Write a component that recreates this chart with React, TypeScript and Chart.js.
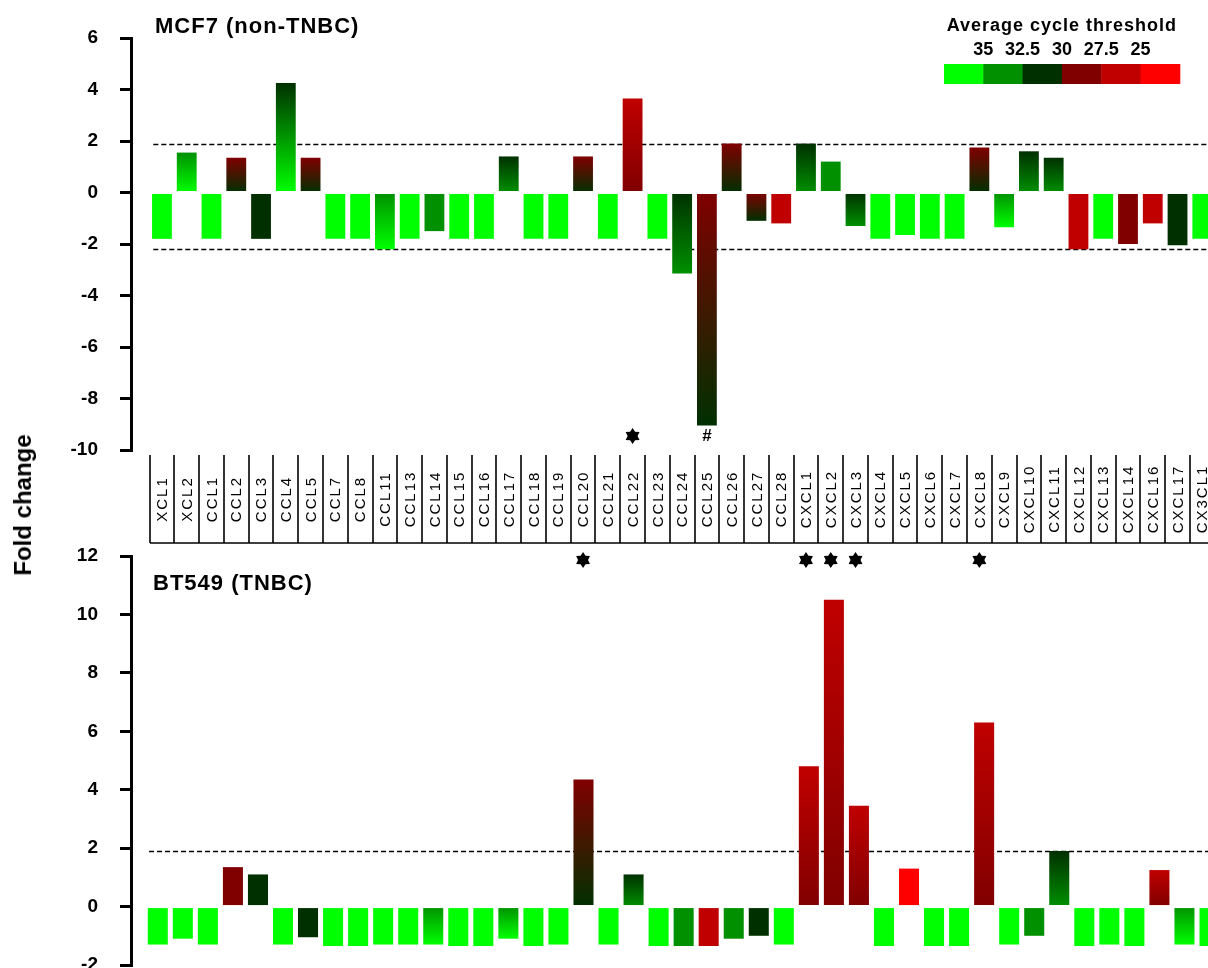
import React, { useEffect, useRef } from 'react';
import { Chart, registerables } from 'chart.js';

Chart.register(...registerables);

// ---------------- DATA ----------------
const categories = [
  'XCL1', 'XCL2', 'CCL1', 'CCL2', 'CCL3', 'CCL4', 'CCL5', 'CCL7', 'CCL8', 'CCL11',
  'CCL13', 'CCL14', 'CCL15', 'CCL16', 'CCL17', 'CCL18', 'CCL19', 'CCL20', 'CCL21', 'CCL22',
  'CCL23', 'CCL24', 'CCL25', 'CCL26', 'CCL27', 'CCL28', 'CXCL1', 'CXCL2', 'CXCL3', 'CXCL4',
  'CXCL5', 'CXCL6', 'CXCL7', 'CXCL8', 'CXCL9', 'CXCL10', 'CXCL11', 'CXCL12', 'CXCL13', 'CXCL14',
  'CXCL16', 'CXCL17', 'CX3CL1',
];

// MCF7 (non-TNBC) fold change
const mcf7Values = [
  -1.8, 1.55, -1.8, 1.35, -1.8, 4.25, 1.35, -1.8, -1.8, -2.2,
  -1.8, -1.5, -1.8, -1.8, 1.4, -1.8, -1.8, 1.4, -1.8, 3.65,
  -1.8, -3.15, -9.05, 1.9, -1.1, -1.2, 1.9, 1.2, -1.3, -1.8,
  -1.65, -1.8, -1.8, 1.75, -1.35, 1.6, 1.35, -2.2, -1.8, -2.0,
  -1.2, -2.05, -1.8,
];
// average cycle threshold level (index into legend) at the upper / lower end of each bar
const mcf7UpperLevel = [
  0, 1, 0, 3, 2, 2, 3, 0, 0, 1,
  0, 1, 0, 0, 2, 0, 0, 3, 0, 4,
  0, 2, 3, 3, 3, 4, 2, 1, 2, 0,
  0, 0, 0, 3, 1, 2, 2, 4, 0, 3,
  4, 2, 0,
];
const mcf7LowerLevel = [
  0, 0, 0, 2, 2, 0, 2, 0, 0, 0,
  0, 1, 0, 0, 1, 0, 0, 2, 0, 3,
  0, 1, 2, 2, 2, 4, 1, 1, 1, 0,
  0, 0, 0, 2, 0, 1, 1, 4, 0, 3,
  4, 2, 0,
];
const mcf7Marks = [
  '', '', '', '', '', '', '', '', '', '',
  '', '', '', '', '', '', '', '', '', '*',
  '', '', '#', '', '', '', '', '', '', '',
  '', '', '', '', '', '', '', '', '', '',
  '', '', '',
];
const mcf7Thresholds = [1.9, -2.2];
const mcf7Ticks = { min: -10, max: 6, step: 2 };

// BT549 (TNBC) fold change
const bt549Values = [
  -1.3, -1.1, -1.3, 1.35, 1.1, -1.3, -1.05, -1.35, -1.35, -1.3,
  -1.3, -1.3, -1.35, -1.35, -1.1, -1.35, -1.3, 4.35, -1.3, 1.1,
  -1.35, -1.35, -1.35, -1.1, -1.0, -1.3, 4.8, 10.5, 3.45, -1.35,
  1.3, -1.35, -1.35, 6.3, -1.3, -1.0, 1.9, -1.35, -1.3, -1.35,
  1.25, -1.3, -1.35,
];
const bt549UpperLevel = [
  0, 0, 0, 3, 2, 0, 2, 0, 0, 0,
  0, 1, 0, 0, 1, 0, 0, 3, 0, 2,
  0, 1, 4, 1, 2, 0, 4, 4, 4, 0,
  5, 0, 0, 4, 0, 1, 2, 0, 0, 0,
  4, 1, 0,
];
const bt549LowerLevel = [
  0, 0, 0, 3, 2, 0, 2, 0, 0, 0,
  0, 0, 0, 0, 0, 0, 0, 2, 0, 1,
  0, 1, 4, 1, 2, 0, 3, 3, 3, 0,
  5, 0, 0, 3, 0, 1, 1, 0, 0, 0,
  3, 0, 0,
];
const bt549Marks = [
  '', '', '', '', '', '', '', '', '', '',
  '', '', '', '', '', '', '', '*', '', '',
  '', '', '', '', '', '', '*', '*', '*', '',
  '', '', '', '*', '', '', '', '', '', '',
  '', '', '',
];
const bt549Thresholds = [1.9];
const bt549Ticks = { min: -2, max: 12, step: 2 };

const legendTitle = 'Average cycle threshold';
const legendLabels = ['35', '32.5', '30', '27.5', '25'];
const legendColors = ['#00ff00', '#009000', '#003000', '#800000', '#c00000', '#ff0000'];

// ---------------- DRAWING HELPERS ----------------
const FONT = "'Liberation Sans', Arial, Helvetica, sans-serif";
const W = 1208;

function drawStar(ctx: CanvasRenderingContext2D, cx: number, cy: number, r: number) {
  const inner = r * 0.62;
  ctx.beginPath();
  for (let k = 0; k < 12; k++) {
    const a = -Math.PI / 2 + (k * Math.PI) / 6;
    const rr = k % 2 === 0 ? r : inner;
    const px = cx + rr * Math.cos(a);
    const py = cy + rr * Math.sin(a);
    if (k === 0) ctx.moveTo(px, py);
    else ctx.lineTo(px, py);
  }
  ctx.closePath();
  ctx.fillStyle = '#000';
  ctx.fill();
}

function drawMark(ctx: CanvasRenderingContext2D, mark: string, x: number, y: number) {
  if (mark === '*') {
    drawStar(ctx, x, y, 8);
  } else if (mark) {
    ctx.save();
    ctx.font = `bold 17px ${FONT}`;
    ctx.fillStyle = '#000';
    ctx.textAlign = 'center';
    ctx.textBaseline = 'middle';
    ctx.fillText(mark, x, y);
    ctx.restore();
  }
}

function makeGradient(values: number[], upper: number[], lower: number[]) {
  return (c: any) => {
    const i = c.dataIndex;
    if (i === undefined || i === null) return legendColors[0];
    const chart = c.chart;
    const y = chart.scales.y;
    const v = values[i];
    const top = y.getPixelForValue(Math.max(v, 0));
    const bot = y.getPixelForValue(Math.min(v, 0));
    if (!isFinite(top) || !isFinite(bot) || top === bot) return legendColors[upper[i]];
    const g = chart.ctx.createLinearGradient(0, top, 0, bot);
    g.addColorStop(0, legendColors[upper[i]]);
    g.addColorStop(1, legendColors[lower[i]]);
    return g;
  };
}

function drawThresholds(chart: any, thresholds: number[]) {
  const { ctx, chartArea, scales } = chart;
  ctx.save();
  ctx.strokeStyle = '#000';
  ctx.lineWidth = 1.5;
  ctx.setLineDash([5, 3]);
  const x0 = scales.x.getPixelForValue(-0.35);
  thresholds.forEach((t) => {
    const py = Math.round(scales.y.getPixelForValue(t)) + 0.5;
    ctx.beginPath();
    ctx.moveTo(x0, py);
    ctx.lineTo(chartArea.right, py);
    ctx.stroke();
  });
  ctx.restore();
}

function drawTitle(chart: any, text: string, x: number, y: number) {
  const ctx = chart.ctx;
  ctx.save();
  ctx.font = `bold 22px ${FONT}`;
  (ctx as any).letterSpacing = '1px';
  ctx.fillStyle = '#000';
  ctx.textAlign = 'left';
  ctx.textBaseline = 'alphabetic';
  ctx.fillText(text, x, y);
  ctx.restore();
}

function baseOptions(xMin: number, xMax: number, ticks: { min: number; max: number; step: number }, padding: any) {
  return {
    responsive: false,
    animation: false as const,
    layout: { padding },
    plugins: { legend: { display: false }, tooltip: { enabled: false } },
    scales: {
      x: {
        type: 'linear' as const,
        min: xMin,
        max: xMax,
        offset: false,
        display: false,
      },
      y: {
        min: ticks.min,
        max: ticks.max,
        afterFit: (scale: any) => {
          scale.width = 131;
        },
        ticks: {
          stepSize: ticks.step,
          color: '#000',
          padding: 22,
          font: { family: FONT, size: 19, weight: 'bold' as const },
        },
        grid: {
          drawOnChartArea: false,
          drawTicks: true,
          tickLength: 11,
          lineWidth: 3,
          color: '#000',
        },
        border: { display: true, width: 3, color: '#000' },
      },
    },
  };
}

function dataset(values: number[], upper: number[], lower: number[]) {
  return {
    data: values.map((v, i) => ({ x: i, y: v })),
    backgroundColor: makeGradient(values, upper, lower),
    borderWidth: 0,
    categoryPercentage: 1,
    barPercentage: 0.8,
  };
}

// ---------------- COMPONENT ----------------
export default function App() {
  const topRef = useRef<HTMLCanvasElement>(null);
  const botRef = useRef<HTMLCanvasElement>(null);

  useEffect(() => {
    const topCanvas = topRef.current!;
    const botCanvas = botRef.current!;

    const topDecor = {
      id: 'topDecor',
      beforeDatasetsDraw(chart: any) {
        drawThresholds(chart, mcf7Thresholds);
      },
      afterDraw(chart: any) {
        const { ctx, chartArea, scales } = chart;
        const x = scales.x;
        drawTitle(chart, 'MCF7 (non-TNBC)', 155, 33);

        // legend
        const lx0 = 944;
        const lw = 39.3;
        ctx.save();
        legendColors.forEach((c, k) => {
          ctx.fillStyle = c;
          ctx.fillRect(lx0 + k * lw, 64, lw + 0.5, 20);
        });
        ctx.fillStyle = '#000';
        ctx.textAlign = 'center';
        ctx.textBaseline = 'alphabetic';
        ctx.font = `bold 18px ${FONT}`;
        (ctx as any).letterSpacing = '1px';
        ctx.fillText(legendTitle, lx0 + 3 * lw, 31);
        (ctx as any).letterSpacing = '0px';
        legendLabels.forEach((t, k) => {
          ctx.fillText(t, lx0 + (k + 1) * lw, 55);
        });
        ctx.restore();

        // significance marks inside plot
        mcf7Marks.forEach((m, i) => drawMark(ctx, m, x.getPixelForValue(i), chartArea.bottom - 14));

        // category table
        const tTop = chartArea.bottom + 5;
        const tBot = chartArea.bottom + 93;
        ctx.save();
        ctx.strokeStyle = '#000';
        ctx.lineWidth = 1.6;
        for (let k = -1; k < categories.length - 1; k++) {
          const px = Math.round(x.getPixelForValue(k + 0.5));
          ctx.beginPath();
          ctx.moveTo(px, tTop);
          ctx.lineTo(px, tBot);
          ctx.stroke();
        }
        ctx.beginPath();
        ctx.moveTo(Math.round(x.getPixelForValue(-0.5)), tBot);
        ctx.lineTo(W, tBot);
        ctx.stroke();
        ctx.fillStyle = '#000';
        ctx.font = `15px ${FONT}`;
        (ctx as any).letterSpacing = '2px';
        ctx.textAlign = 'center';
        ctx.textBaseline = 'middle';
        categories.forEach((c, i) => {
          ctx.save();
          ctx.translate(x.getPixelForValue(i) + 1, (tTop + tBot) / 2);
          ctx.rotate(-Math.PI / 2);
          ctx.fillText(c, 0, 0);
          ctx.restore();
        });
        ctx.restore();

        // BT549 significance marks under the table
        bt549Marks.forEach((m, i) => drawMark(ctx, m, x.getPixelForValue(i), tBot + 17));
      },
    };

    const botDecor = {
      id: 'botDecor',
      beforeDatasetsDraw(chart: any) {
        drawThresholds(chart, bt549Thresholds);
      },
      afterDraw(chart: any) {
        drawTitle(chart, 'BT549 (TNBC)', 153, 70);
      },
    };

    const topChart = new Chart(topCanvas, {
      type: 'bar',
      data: { datasets: [dataset(mcf7Values, mcf7UpperLevel, mcf7LowerLevel) as any] },
      options: baseOptions(-1.25, 42.23, mcf7Ticks, { top: 38, bottom: 130, left: 0, right: 0 }) as any,
      plugins: [topDecor],
    });

    const botChart = new Chart(botCanvas, {
      type: 'bar',
      data: { datasets: [dataset(bt549Values, bt549UpperLevel, bt549LowerLevel) as any] },
      options: baseOptions(-1.07, 41.94, bt549Ticks, { top: 36, bottom: 75, left: 0, right: 0 }) as any,
      plugins: [botDecor],
    });

    return () => {
      topChart.destroy();
      botChart.destroy();
    };
  }, []);

  return (
    <div
      style={{
        position: 'fixed',
        left: 0,
        top: 0,
        width: W,
        height: 968,
        overflow: 'hidden',
        background: '#fff',
      }}
    >
      <canvas ref={topRef} width={W} height={580} style={{ position: 'absolute', left: 0, top: 0 }} />
      <canvas ref={botRef} width={W} height={520} style={{ position: 'absolute', left: 0, top: 520 }} />
      <div
        style={{
          position: 'absolute',
          left: 23,
          top: 505,
          transform: 'translate(-50%, -50%) rotate(-90deg)',
          whiteSpace: 'nowrap',
          fontFamily: FONT,
          fontWeight: 'bold',
          fontSize: 24,
          color: '#000',
        }}
      >
        Fold change
      </div>
    </div>
  );
}
